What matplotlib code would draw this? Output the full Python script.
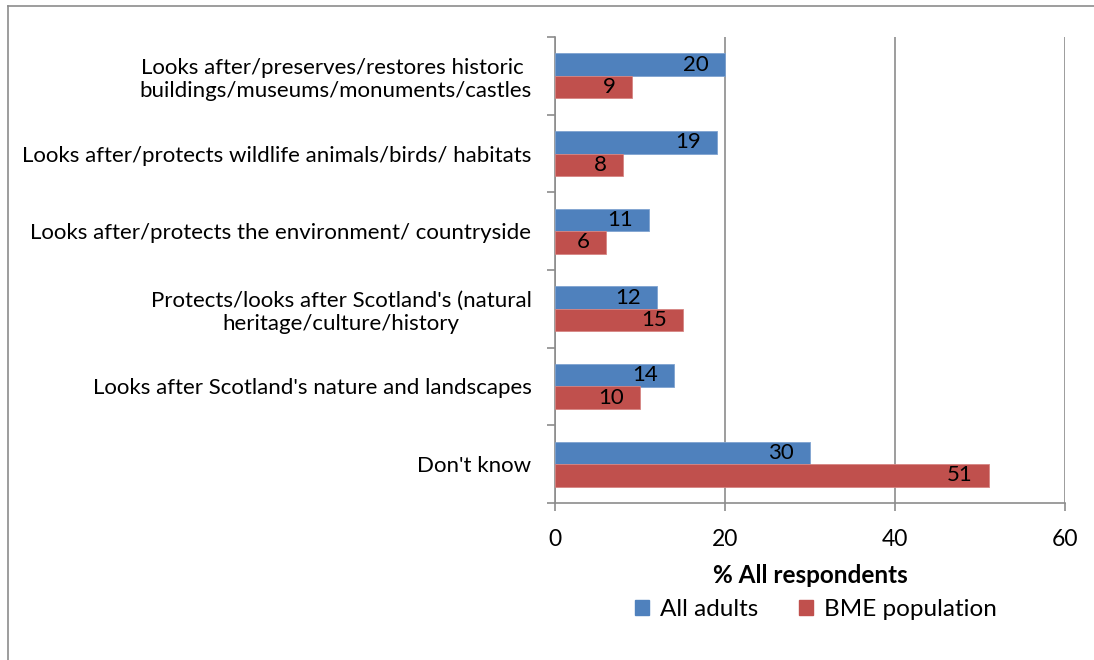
import matplotlib
matplotlib.use("Agg")
import matplotlib.pyplot as plt
from matplotlib.lines import Line2D
from matplotlib.patches import Patch
import numpy as np

plt.rcParams['font.family'] = ['Lato', 'DejaVu Sans']

categories = [
    "Looks after/preserves/restores historic \nbuildings/museums/monuments/castles",
    "Looks after/protects wildlife animals/birds/ habitats",
    "Looks after/protects the environment/ countryside",
    "Protects/looks after Scotland's (natural\nheritage/culture/history",
    "Looks after Scotland's nature and landscapes",
    "Don't know",
]
all_adults = [20, 19, 11, 12, 14, 30]
bme_population = [9, 8, 6, 15, 10, 51]
series_names = ["All adults", "BME population"]
x_ticks = [0, 20, 40, 60]
x_label = "% All respondents"

BLUE = "#4F81BD"
RED = "#C0504D"
GRID = "#8C8C8C"

fig = plt.figure(figsize=(10.94, 6.60), dpi=100)
ax = fig.add_axes([555 / 1094, 1 - 503 / 660, 510 / 1094, 466 / 660])

# outer chart frame (top and left edges)
fig.add_artist(Line2D([8 / 1094, 1.0], [1 - 6 / 660, 1 - 6 / 660], color="#8C8C8C", lw=1.2))
fig.add_artist(Line2D([8 / 1094, 8 / 1094], [0, 1 - 6 / 660], color="#8C8C8C", lw=1.2))

y = np.arange(len(categories))
h = 0.29
b1 = ax.barh(y - h / 2, all_adults, height=h, color=BLUE, edgecolor="#7FA3D0", linewidth=0.6, zorder=3)
b2 = ax.barh(y + h / 2, bme_population, height=h, color=RED, edgecolor="#D68583", linewidth=0.6, zorder=3)

for bars, vals in ((b1, all_adults), (b2, bme_population)):
    for bar, v in zip(bars, vals):
        ax.annotate(f"{v}", xy=(v, bar.get_y() + bar.get_height() / 2),
                    xytext=(-11.5, 0), textcoords="offset points",
                    ha="right", va="center", fontsize=16, color="black", zorder=4)

ax.set_xlim(0, 60)
ax.set_ylim(len(categories) - 0.5, -0.5)

# category boundaries carry the tick marks; labels sit at the centres
ax.set_yticks(np.arange(-0.5, len(categories), 1.0))
ax.set_yticklabels([])
ax.set_yticks(y, minor=True)
ax.set_yticklabels(categories, minor=True, fontsize=16, multialignment="center")
ax.tick_params(axis="y", which="major", length=6, width=1.2, color=GRID, direction="out")
ax.tick_params(axis="y", which="minor", length=0, pad=17)

ax.set_xticks(x_ticks)
ax.set_xticklabels([str(t) for t in x_ticks], fontsize=16.5)
ax.tick_params(axis="x", length=6, width=1.2, color=GRID, direction="out", pad=13)

ax.grid(axis="x", color=GRID, linewidth=1.2, zorder=0)
for s in ("top", "right"):
    ax.spines[s].set_visible(False)
for s in ("left", "bottom"):
    ax.spines[s].set_color(GRID)
    ax.spines[s].set_linewidth(1.2)

ax.set_xlabel(x_label, fontsize=17.5, fontweight="bold", labelpad=10)

handles = [Patch(facecolor=BLUE, edgecolor=BLUE), Patch(facecolor=RED, edgecolor=RED)]
fig.legend(handles, series_names, loc="center", bbox_to_anchor=(816 / 1094, 1 - 610 / 660),
           ncol=2, frameon=False, fontsize=17.5, handlelength=0.58, handleheight=0.58,
           handletextpad=0.45, columnspacing=1.65)

fig.savefig("out.png", dpi=100)
